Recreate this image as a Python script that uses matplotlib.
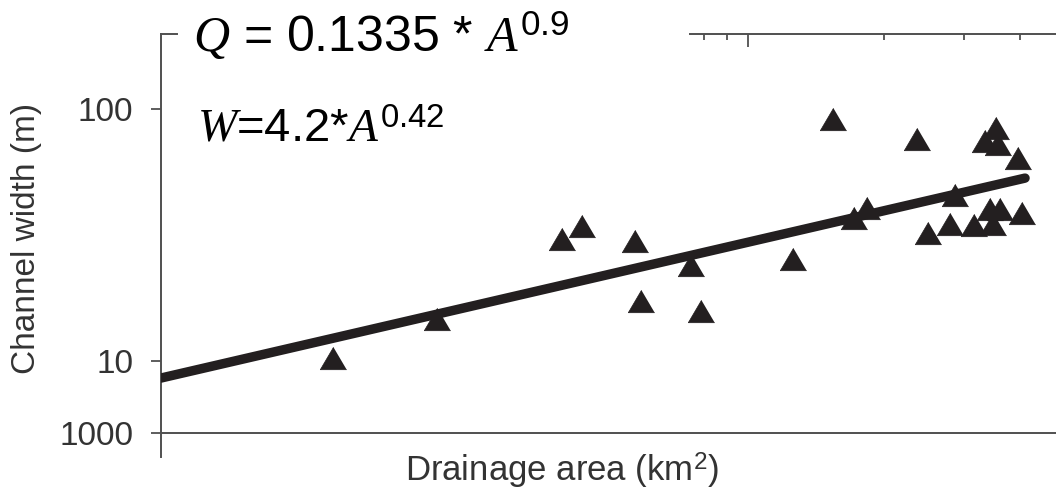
import matplotlib
matplotlib.use("Agg")
import matplotlib.pyplot as plt
from matplotlib.ticker import NullLocator

plt.rcParams['font.family'] = ['Liberation Sans', 'DejaVu Sans']
plt.rcParams['mathtext.fontset'] = 'custom'
plt.rcParams['mathtext.rm'] = 'Liberation Sans'
plt.rcParams['mathtext.it'] = 'Liberation Serif:italic'

# data (drainage area km2, channel width m)
area_km2 = [12.1, 20.5, 38.8, 43.0, 56.2, 58.0, 74.8, 78.7, 125.8, 154,
            171.6, 183.4, 236.5, 250, 280, 287, 316, 334, 354, 357,
            343, 361, 348, 396, 404]
width_m = [10.3, 14.7, 30.5, 34.3, 29.9, 17.3, 24.0, 15.8, 25.4, 91.3,
           36.9, 40.5, 76.0, 32.2, 35.0, 45.6, 34.6, 74.7, 84.1, 72.6,
           40.1, 40.1, 35.0, 63.9, 38.7]

# fitted line W = 4.2*A^0.42, end points as drawn
fit_area = [5.03, 410]
fit_width = [8.56, 53.2]

ytick_vals = [5.18, 10, 100]
ytick_labels = ['1000', '10', '100']

ink = '#231f20'
axis_col = '#505050'
label_col = '#333333'

fig = plt.figure(figsize=(10.56, 5), dpi=100)
ax = fig.add_axes([0.1525, 0.086, 0.8475, 0.846])
ax.set_xscale('log')
ax.set_yscale('log')
ax.set_xlim(5.03, 480)
ax.set_ylim(4.16, 198.5)

tri = [(0, 0.85), (-1, -0.85), (1, -0.85)]
ax.plot(area_km2, width_m, linestyle='none', marker=tri, markersize=19,
        color=ink, markeredgewidth=0.5, zorder=3)
ax.plot(fit_area, fit_width, color=ink, lw=6.8, solid_capstyle='round', zorder=4)

# spines
ax.spines['right'].set_visible(False)
ax.spines['bottom'].set_visible(False)
ax.spines['left'].set_color(axis_col)
ax.spines['left'].set_linewidth(1.4)
ax.spines['top'].set_color(axis_col)
ax.spines['top'].set_linewidth(1.4)
ax.spines['top'].set_bounds(74.4, 480)
ax.plot([0, 16 / 895], [1, 1], transform=ax.transAxes, color=axis_col,
        lw=1.4, clip_on=False)
ax.axhline(5.18, color=axis_col, lw=1.4, zorder=2)

# y ticks
ax.set_yticks(ytick_vals)
ax.set_yticklabels(ytick_labels)
ax.yaxis.set_minor_locator(NullLocator())
ax.tick_params(axis='y', direction='out', length=7, width=1.3, color=axis_col,
               labelsize=24, labelcolor=label_col, pad=13)

# x ticks on top only
ax.xaxis.tick_top()
ax.set_xticks([100])
ax.set_xticks([80, 90, 200, 300, 400], minor=True)
ax.set_xticklabels([])
ax.set_xticklabels([], minor=True)
ax.tick_params(axis='x', which='major', direction='in', length=9, width=1.3,
               color=axis_col)
ax.tick_params(axis='x', which='minor', direction='in', length=4.5, width=1.3,
               color=axis_col)

# labels
fig.text(27 / 1056, 1 - 238 / 500, 'Channel width (m)', rotation=90,
         ha='center', va='center', fontsize=24, color=label_col)
fig.text(562 / 1056, 1 - 482 / 500, 'Drainage area (km$^2$)', ha='center',
         va='baseline', fontsize=25, color=label_col)

fig.text(193 / 1056, 1 - 52 / 500, '$Q$ = 0.1335 * $A^{0.9}$', ha='left',
         va='baseline', fontsize=36, color='black')
fig.text(197 / 1056, 1 - 142 / 500, '$W$=4.2*$A^{0.42}$', ha='left',
         va='baseline', fontsize=34, color='black')

fig.savefig('out.png', dpi=100)
